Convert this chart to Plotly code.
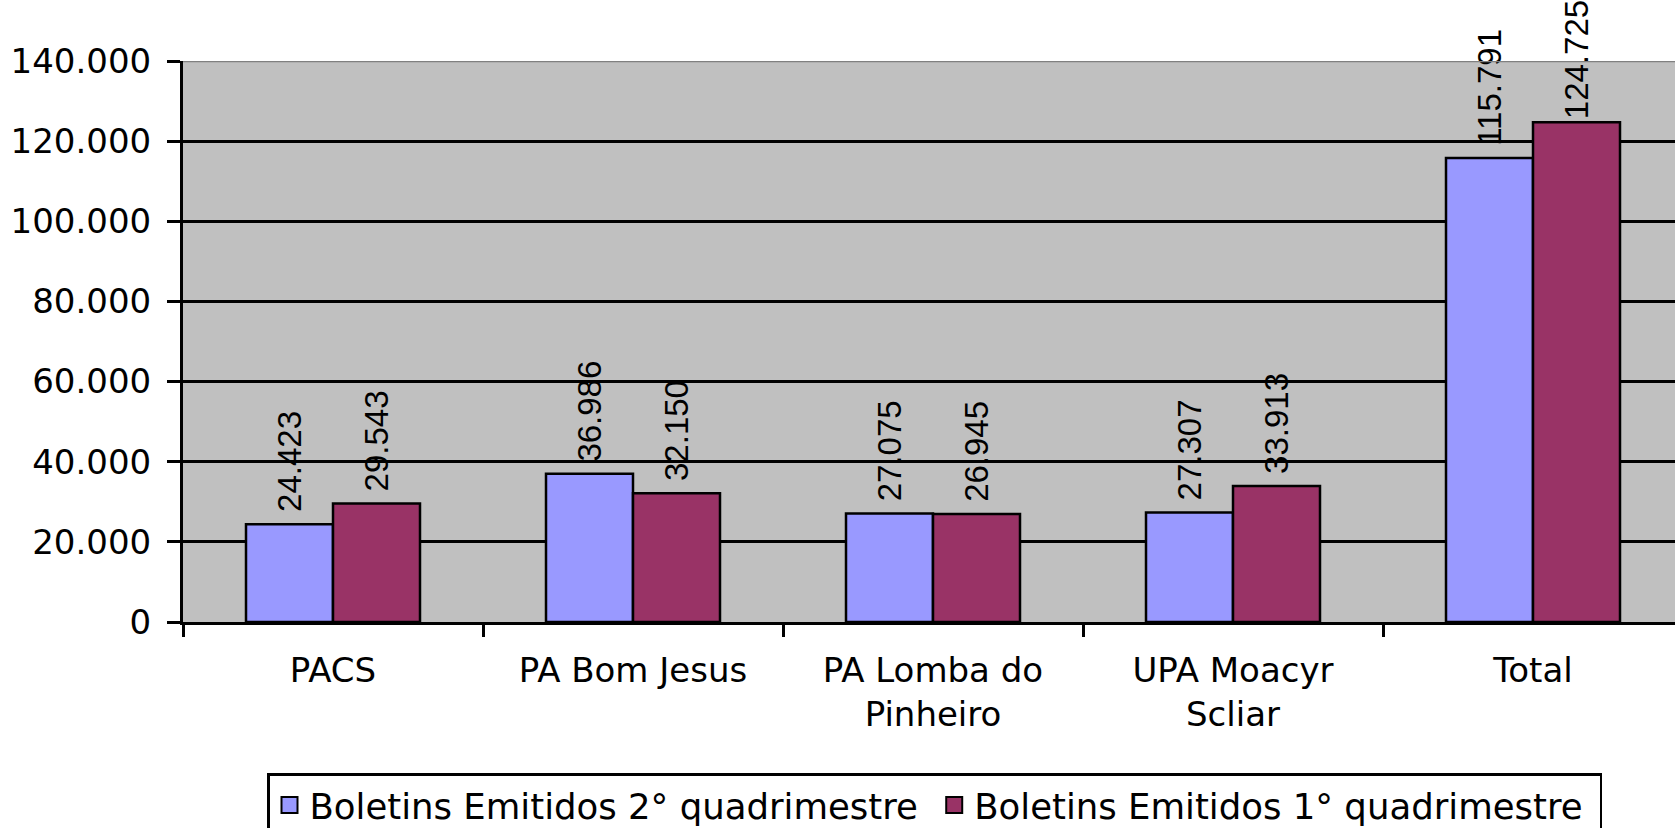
import plotly.graph_objects as go

categories = ["PACS", "PA Bom Jesus", "PA Lomba do<br>Pinheiro", "UPA Moacyr<br>Scliar", "Total"]
series_names = ["Boletins Emitidos 2° quadrimestre", "Boletins Emitidos 1° quadrimestre"]
q2_values = [24423, 36986, 27075, 27307, 115791]
q1_values = [29543, 32150, 26945, 33913, 124725]
colors = ["#9999FF", "#993366"]

W, H = 1675, 828
L, T, B = 183, 61, 206
plot_w = W - L
plot_h = H - T - B
cat_px = 300.0

FONT = "DejaVu Sans"
LABEL_FONT = "Liberation Sans"

gap_tpl = "\u00a0%{y:,.0f}"
tight_tpl = "%{y:,.0f}"
templates = [
    [gap_tpl] * len(q2_values),
    [gap_tpl] * (len(q1_values) - 1) + [tight_tpl],  # tallest label squeezed against the top
]

fig = go.Figure()
for name, vals, col, tpl in zip(series_names, [q2_values, q1_values], colors, templates):
    fig.add_trace(go.Bar(
        x=categories, y=vals, name=name,
        marker=dict(color=col, line=dict(color="black", width=2.5)),
        text=vals, texttemplate=tpl,
        textposition="outside", textangle=-90,
        textfont=dict(family=LABEL_FONT, size=33, color="black"),
        cliponaxis=False, constraintext="none",
        showlegend=False,
    ))
# legend entries with larger square swatches (trailing nbsp gives the item spacing)
for name, col in zip(series_names, colors):
    fig.add_trace(go.Scatter(
        x=[None], y=[None], mode="markers", name=name + "\u00a0",
        marker=dict(symbol="square", size=19, color=col, line=dict(color="black", width=2)),
    ))

fig.add_shape(type="line", xref="paper", yref="y", x0=0, x1=1, y0=140000, y1=140000,
              line=dict(color="#808080", width=2.5), layer="above")

fig.update_layout(
    width=W, height=H,
    margin=dict(l=L, r=0, t=T, b=B, pad=0, autoexpand=False),
    paper_bgcolor="white", plot_bgcolor="#C0C0C0",
    separators=",.",
    barmode="group", bargap=0.42, bargroupgap=0,
    font=dict(family=FONT, size=34, color="black"),
    showlegend=True,
    legend=dict(
        orientation="h", x=(267 - L) / plot_w, y=(T + plot_h - 773) / plot_h,
        xanchor="left", yanchor="top",
        bgcolor="white", bordercolor="black", borderwidth=2.5,
        font=dict(family=FONT, size=35.5, color="black"),
        itemwidth=30, tracegroupgap=0,
    ),
    xaxis=dict(
        range=[-0.5, -0.5 + plot_w / cat_px],
        showgrid=False, showline=True, linecolor="black", linewidth=3,
        ticks="outside", tickson="boundaries", ticklen=12, tickwidth=3, tickcolor="black",
        tickfont=dict(family=FONT, size=34, color="black"),
        ticklabelstandoff=16,
        fixedrange=True,
    ),
    yaxis=dict(
        range=[0, 140000], dtick=20000, tickformat=",.0f",
        showgrid=True, gridcolor="black", gridwidth=2.5,
        showline=True, linecolor="black", linewidth=3,
        ticks="outside", ticklen=13, tickwidth=3, tickcolor="black",
        tickfont=dict(family=FONT, size=34, color="black"),
        ticklabelstandoff=9,
        zeroline=False, fixedrange=True,
    ),
)

fig.write_html("out.html", config={"displayModeBar": False},
               post_script="document.body.style.margin='0';document.body.style.overflow='hidden';")
